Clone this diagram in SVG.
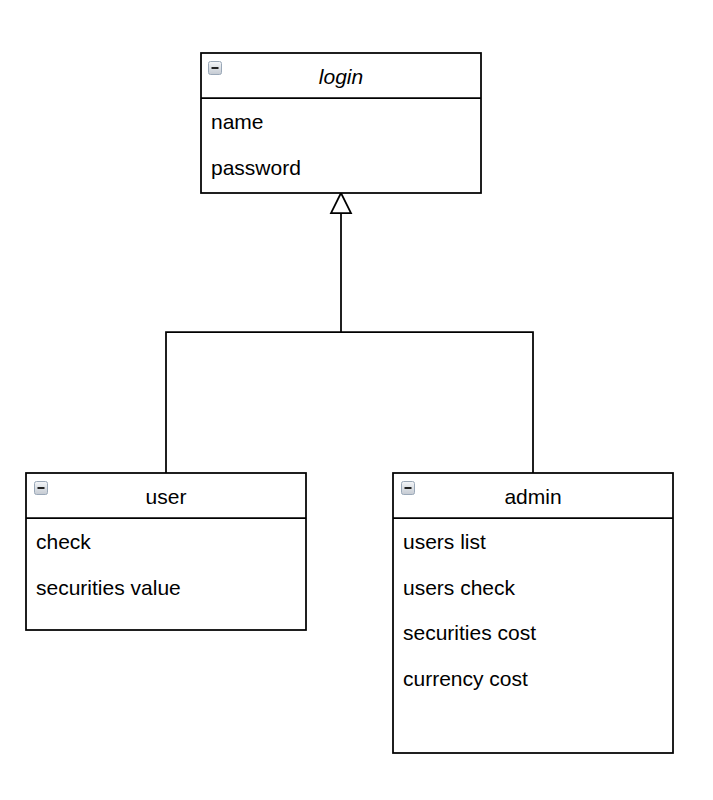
<svg xmlns="http://www.w3.org/2000/svg" width="713" height="800" viewBox="0 0 713 800">
<defs>
<linearGradient id="ig" x1="0" y1="0" x2="0" y2="1">
<stop offset="0" stop-color="#f4f6f8"/>
<stop offset="1" stop-color="#c4cad2"/>
</linearGradient>
<g id="icon">
<rect x="0.5" y="0.5" width="13" height="13" rx="2" fill="url(#ig)" stroke="#9aa8b8" stroke-width="1"/>
<line x1="3.5" y1="7" x2="10.5" y2="7" stroke="#222" stroke-width="2"/>
</g>
</defs>
<style>
.box{fill:#fff;stroke:#000;stroke-width:1.75}
.sep{stroke:#000;stroke-width:1.75}
.t{font-family:"Liberation Sans",Arial,sans-serif;font-size:21px;fill:#000}
.c{text-anchor:middle}
.edge{fill:none;stroke:#000;stroke-width:1.75}
</style>
<rect width="713" height="800" fill="#fff"/>
<g id="connectors">
<path class="edge" d="M166 473 V332 H533 V473"/>
<path class="edge" d="M341 332 V213"/>
<polygon points="341,193 331,213 351,213" fill="#fff" stroke="#000" stroke-width="1.75"/>
</g>
<g id="login">
<rect class="box" x="201" y="53" width="280" height="140"/>
<line class="sep" x1="201" y1="98" x2="481" y2="98"/>
<use href="#icon" x="208" y="61"/>
<text class="t c" x="341" y="84" font-style="italic">login</text>
<text class="t" x="211" y="129">name</text>
<text class="t" x="211" y="175">password</text>
</g>
<g id="user">
<rect class="box" x="26" y="473" width="280" height="157"/>
<line class="sep" x1="26" y1="518" x2="306" y2="518"/>
<use href="#icon" x="34" y="481"/>
<text class="t c" x="166" y="504">user</text>
<text class="t" x="36" y="549">check</text>
<text class="t" x="36" y="595">securities value</text>
</g>
<g id="admin">
<rect class="box" x="393" y="473" width="280" height="280"/>
<line class="sep" x1="393" y1="518" x2="673" y2="518"/>
<use href="#icon" x="401" y="481"/>
<text class="t c" x="533" y="504">admin</text>
<text class="t" x="403" y="549">users list</text>
<text class="t" x="403" y="595">users check</text>
<text class="t" x="403" y="640">securities cost</text>
<text class="t" x="403" y="686">currency cost</text>
</g>
</svg>
